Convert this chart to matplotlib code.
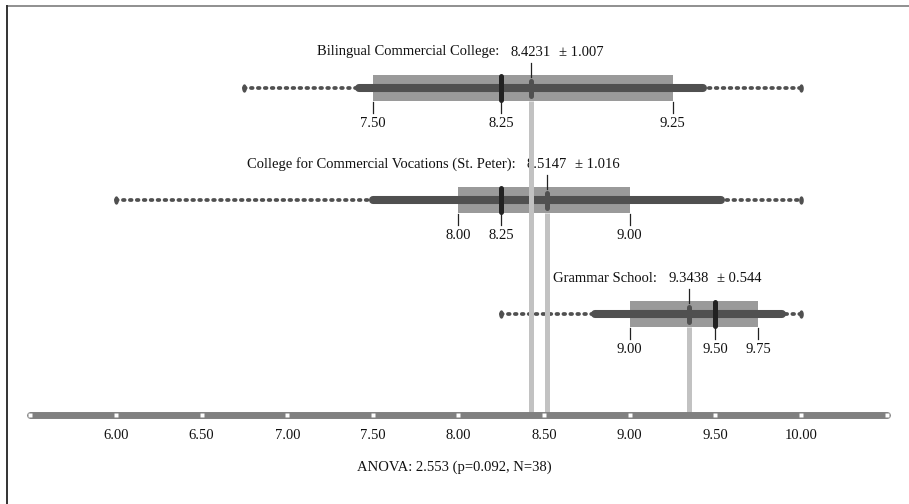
import numpy as np
import matplotlib
matplotlib.use("Agg")
import matplotlib.pyplot as plt
from matplotlib.path import Path
from matplotlib.lines import Line2D

# ---- data ----
groups = ["Bilingual Commercial College:",
          "College for Commercial Vocations (St. Peter):",
          "Grammar School:"]
means = [8.4231, 8.5147, 9.3438]
sds = [1.007, 1.016, 0.544]
mins = [6.75, 6.00, 8.25]
maxs = [10.00, 10.00, 10.00]
q1s = [7.50, 8.00, 9.00]
medians = [8.25, 8.25, 9.50]
q3s = [9.25, 9.00, 9.75]
axis_marks = [5.5, 6.0, 6.5, 7.0, 7.5, 8.0, 8.5, 9.0, 9.5, 10.0, 10.5]
axis_labels = [6.00, 6.50, 7.00, 7.50, 8.00, 8.50, 9.00, 9.50, 10.00]
anova_text = "ANOVA: 2.553 (p=0.092, N=38)"

# ---- layout ----
W, H = 909, 504
row_y = [88, 200, 314.3]
axis_y = 414.5
FONT = "Liberation Serif"
FS = 10.5

plt.rcParams['font.family'] = [FONT, 'DejaVu Serif']

fig = plt.figure(figsize=(W / 100, H / 100), dpi=100)
ax = fig.add_axes([0, 0, 1, 1])
ax.set_xlim(5.3226, 10.6307)
ax.set_ylim(H, 0)
ax.axis('off')

# ellipse end marker
t = np.linspace(0, 2 * np.pi, 40)
ell = Path(np.column_stack([0.55 * np.cos(t), np.sin(t)]))

C_BOX = '#9a9a9a'
C_DARK = '#505050'
C_MED = '#222222'
C_MEANLINE = '#c2c2c2'
C_AXIS = '#808080'

for g, m, sd, mn, mx, q1, med, q3, y in zip(groups, means, sds, mins, maxs,
                                             q1s, medians, q3s, row_y):
    # quartile box
    ax.barh([y], [q3 - q1], left=[q1], height=26, color=C_BOX, zorder=2)
    # min-max dotted line
    ax.plot([mn, mx], [y, y], color=C_DARK, lw=2.7, linestyle=(0, (0.45, 1.4)),
            dash_capstyle='round', zorder=1)
    ax.plot([mn, mx], [y, y], linestyle='none', marker=ell, ms=6,
            color=C_DARK, mec='none', zorder=1)
    # mean +- sd thick line
    ax.plot([m - sd, m + sd], [y, y], color=C_DARK, lw=5.8,
            solid_capstyle='round', zorder=3)
    # gray mean line down to axis
    ax.plot([m, m], [y + 13, axis_y], color=C_MEANLINE, lw=3.6,
            solid_capstyle='butt', zorder=4)
    # median marker
    ax.plot([med, med], [y - 12, y + 12], color=C_MED, lw=3.6,
            solid_capstyle='round', zorder=6)
    # mean marker
    ax.plot([m, m], [y - 7.5, y + 7.5], color=C_DARK, lw=3.6,
            solid_capstyle='round', zorder=5)
    # mean tick + labels above
    ax.plot([m, m], [y - 25, y - 11], color='#222222', lw=0.9, zorder=5)
    vt = ax.text(m, y - 36, f"{m:.4f}", ha='center', va='center',
                 fontsize=FS, color='#111111')
    ax.annotate(g, xy=(0, 0.5), xycoords=vt, xytext=(-8, 0),
                textcoords='offset points', ha='right', va='center',
                fontsize=FS, color='#111111')
    ax.annotate(f"\u00b1 {sd:.3f}", xy=(1, 0.5), xycoords=vt, xytext=(6, 0),
                textcoords='offset points', ha='left', va='center',
                fontsize=FS, color='#111111')
    # quartile ticks + labels below
    for v in (q1, med, q3):
        ax.plot([v, v], [y + 14, y + 25], color='#222222', lw=0.9, zorder=5)
        ax.text(v, y + 29, f"{v:.2f}", ha='center', va='top',
                fontsize=FS, color='#111111')

# bottom axis
ax.plot([axis_marks[0], axis_marks[-1]], [axis_y, axis_y], color=C_AXIS,
        lw=5, solid_capstyle='round', zorder=7)
ax.plot(axis_marks, [axis_y] * len(axis_marks), linestyle='none', marker='s',
        ms=3.2, color='white', mec='none', zorder=8)
for v in axis_labels:
    ax.text(v, axis_y + 21, f"{v:.2f}", ha='center', va='center',
            fontsize=FS, color='#111111')
ax.text(0.5, 467.5, anova_text, transform=ax.get_yaxis_transform(),
        ha='center', va='center', fontsize=FS, color='#111111')

# frame lines
fig.add_artist(Line2D([6.5 / W, 1], [1 - 5.8 / H, 1 - 5.8 / H],
                      transform=fig.transFigure, color='#8f8f8f', lw=1.4))
fig.add_artist(Line2D([6.5 / W, 6.5 / W], [0, 1 - 5.8 / H],
                      transform=fig.transFigure, color='#333333', lw=1.4))

fig.savefig("out.png", dpi=100)
